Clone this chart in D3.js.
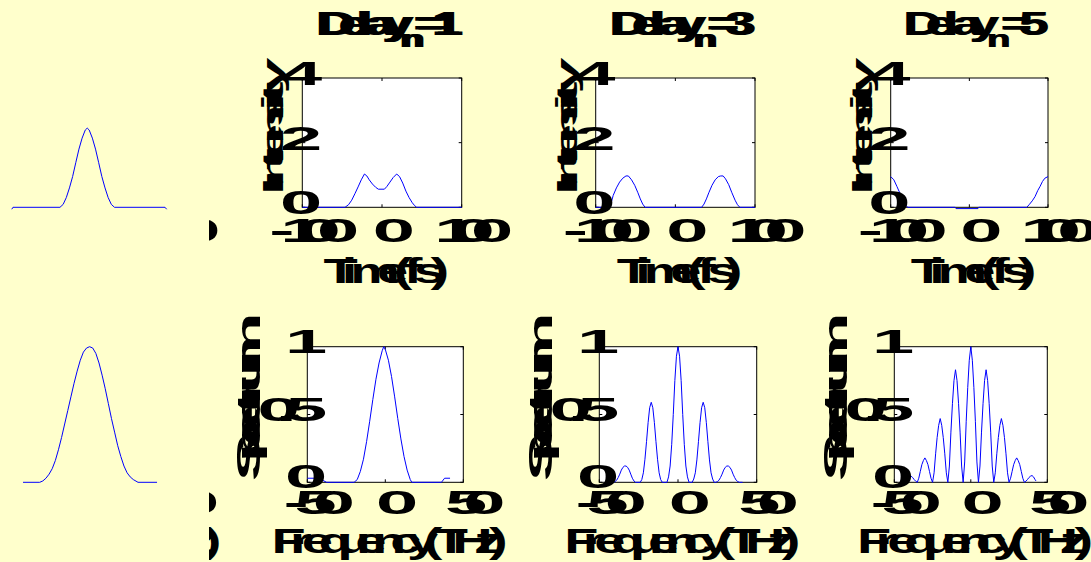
<!DOCTYPE html>
<html>
<head>
<meta charset="utf-8">
<script src="https://cdn.jsdelivr.net/npm/d3@7"></script>
<style>
  html, body { margin: 0; padding: 0; background: #ffffcc; }
  svg { display: block; }
</style>
</head>
<body>
<svg id="fig" width="1091" height="562"></svg>
<script>
// Delays (in units of 20 fs) of the three right-hand columns:
var delays = [1, 3, 5];

// Tick labels:
var timeTicks = [-100, 0, 100];
var intensityTicks = [0, 2, 4];
var freqTicks = [-50, 0, 50];
var spectrumTicks = [0, 0.5, 1];

// Input pulse (left column), intensity in units of 1e4 against time in fs:
var inputPulse = [
  [-99, -0.06], [-97.5, 0], [-38, 0], [-34, 0.09], [-30, 0.3], [-26, 0.6],
  [-22, 0.95], [-18, 1.38], [-14, 1.8], [-10, 2.14], [-6, 2.39], [-3.5, 2.45],
  [-1, 2.39], [3, 2.14], [7, 1.8], [11, 1.38], [15, 0.95], [19, 0.6],
  [23, 0.3], [27, 0.09], [31, 0], [95, 0], [97, -0.06]
];

// Intensity after the interferometer, one array per delay:
var pulseDelay1 = [
  [-100, 0], [-46.4, 0], [-42, 0.08], [-38, 0.22], [-34, 0.42], [-30, 0.63],
  [-26, 0.85], [-22, 1.03], [-19, 0.97], [-16, 0.85], [-12, 0.72], [-8, 0.62],
  [-4.6, 0.56], [3, 0.56], [6, 0.64], [10, 0.78], [14, 0.92], [18.4, 1.03],
  [22, 0.95], [26, 0.75], [30, 0.5], [34, 0.3], [38, 0.14], [41, 0.05],
  [43.5, 0], [100, 0]
];
var pulseDelay3 = [
  [-100, 0], [-84, 0], [-81, 0.1], [-78, 0.37], [-74, 0.6], [-70, 0.78],
  [-66, 0.9], [-62, 0.97], [-59, 0.97], [-55, 0.85], [-51, 0.68], [-47, 0.45],
  [-44, 0.26], [-41, 0.1], [-38, 0], [33, 0], [36, 0.1], [39, 0.26],
  [42, 0.45], [46, 0.68], [50, 0.85], [54, 0.95], [57, 0.97], [60, 0.97],
  [63, 0.88], [67, 0.7], [71, 0.45], [75, 0.22], [78, 0.08], [81, 0], [100, 0]
];
var pulseDelay5 = [
  [-100, 0.95], [-96, 0.85], [-92, 0.64], [-88, 0.42], [-86, 0.33], [-82, 0.12],
  [-80, 0.03], [-78, 0], [-18, 0], [-17, -0.04], [11, -0.04], [12, 0],
  [73, 0], [76, 0.08], [80, 0.2], [83.5, 0.33], [87, 0.52], [90, 0.65],
  [93, 0.8], [96, 0.9], [100, 0.95]
];

// Input spectrum (left column), normalised, against frequency in THz:
var inputSpectrum = [
  [-48.7, 0], [-38, 0], [-36, 0.01], [-34, 0.03], [-32, 0.06], [-30, 0.1],
  [-28, 0.16], [-26, 0.24], [-24, 0.33], [-22, 0.43], [-20, 0.53], [-18, 0.63],
  [-16, 0.73], [-14, 0.82], [-12, 0.9], [-10, 0.96], [-8, 0.99], [-6, 1],
  [-4, 0.99], [-2, 0.95], [0, 0.88], [2, 0.79], [4, 0.69], [6, 0.58],
  [8, 0.47], [10, 0.37], [12, 0.27], [14, 0.19], [16, 0.12], [18, 0.07],
  [20, 0.04], [22, 0.02], [25, 0], [37.2, 0]
];

// Spectra after the interferometer:
var spectrumDelay1 = [
  [-50, 0.03], [-45, 0.03], [-41, 0.02], [-37.6, 0], [-20, 0], [-18, 0.02],
  [-16, 0.08], [-14, 0.17], [-12, 0.3], [-10, 0.45], [-8, 0.61], [-6, 0.76],
  [-4, 0.88], [-2, 0.97], [-1, 1], [0, 0.98], [2, 0.9], [4, 0.78],
  [6, 0.63], [8, 0.47], [10, 0.32], [12, 0.19], [14, 0.09], [16, 0.02],
  [17, 0], [36, 0], [38, 0.03], [41.5, 0.03]
];
var spectrumDelay3 = [
  [-41, 0], [-40, 0.005], [-39, 0.015], [-38, 0.035], [-37, 0.06], [-36, 0.09],
  [-35, 0.11], [-34, 0.12], [-33, 0.12], [-32, 0.11], [-31, 0.09], [-30, 0.06],
  [-29, 0.03], [-28, 0.01], [-27, 0], [-24, 0], [-23, 0.02], [-22, 0.07],
  [-21, 0.17], [-20, 0.3], [-19, 0.44], [-18, 0.55], [-17, 0.59], [-16, 0.55],
  [-15, 0.44], [-14, 0.3], [-13, 0.17], [-12, 0.07], [-11, 0.02], [-10, 0],
  [-7, 0], [-6, 0.04], [-5, 0.12], [-4, 0.28], [-3, 0.5], [-2, 0.75],
  [-1, 0.93], [0, 1], [1, 0.93], [2, 0.75], [3, 0.5], [4, 0.28],
  [5, 0.12], [6, 0.04], [7, 0], [9, 0], [10, 0.024], [11, 0.07],
  [12, 0.165], [13, 0.3], [14, 0.44], [15, 0.55], [16, 0.59], [17, 0.55],
  [18, 0.44], [19, 0.3], [20, 0.165], [21, 0.07], [22, 0.024], [23, 0],
  [24, 0], [25, 0.005], [26, 0.015], [27, 0.035], [28, 0.06], [29, 0.09],
  [30, 0.11], [31, 0.12], [32, 0.12], [33, 0.11], [34, 0.09], [35, 0.06],
  [36, 0.035], [37, 0.015], [38, 0.005], [39, 0], [41, 0]
];
var spectrumDelay5 = [
  [-43.5, 0.01], [-43, 0.01], [-42, 0.02], [-41, 0.045], [-40, 0.05], [-39, 0.045],
  [-38, 0.035], [-37, 0.02], [-36, 0.008], [-35, 0],
  [-34, 0.03], [-33, 0.08], [-32, 0.13], [-31, 0.16], [-30, 0.18], [-29, 0.16],
  [-28, 0.13], [-27, 0.08], [-26, 0.03], [-25, 0],
  [-24, 0.07], [-23, 0.21], [-22, 0.33], [-21, 0.42], [-20, 0.47], [-19, 0.42],
  [-18, 0.33], [-17, 0.21], [-16, 0.07], [-15, 0],
  [-14, 0.12], [-13, 0.37], [-12, 0.58], [-11, 0.75], [-10, 0.83], [-9, 0.75],
  [-8, 0.58], [-7, 0.37], [-6, 0.12], [-5, 0],
  [-4, 0.15], [-3, 0.45], [-2, 0.7], [-1, 0.9], [0, 1], [1, 0.9],
  [2, 0.7], [3, 0.45], [4, 0.15], [5, 0],
  [6, 0.12], [7, 0.37], [8, 0.58], [9, 0.75], [10, 0.83], [11, 0.75],
  [12, 0.58], [13, 0.37], [14, 0.12], [15, 0],
  [16, 0.07], [17, 0.21], [18, 0.33], [19, 0.42], [20, 0.47], [21, 0.42],
  [22, 0.33], [23, 0.21], [24, 0.07], [25, 0],
  [26, 0.03], [27, 0.08], [28, 0.13], [29, 0.16], [30, 0.18], [31, 0.16],
  [32, 0.13], [33, 0.08], [34, 0.03], [35, 0],
  [36, 0.008], [37, 0.02], [38, 0.035], [39, 0.045], [40, 0.05], [41, 0.04],
  [42, 0.02], [42.6, 0.01]
];

var pulses = [inputPulse, pulseDelay1, pulseDelay3, pulseDelay5];
var spectra = [inputSpectrum, spectrumDelay1, spectrumDelay3, spectrumDelay5];

// Axes boxes of the two rows (column 0 is the input, mostly hidden):
var topRow = { top: 78, bottom: 207.3, left: [11, 302.3, 595.7, 890.7], width: [158, 159.4, 159.3, 157.3] };
var botRow = { top: 346.7, bottom: 482.3, left: [21, 307.3, 599.3, 894.3], width: [156, 156, 157.4, 153] };

var BG = "#ffffcc";
var FONT = "'Liberation Sans', Arial, sans-serif";
var svg = d3.select("#fig");

svg.append("rect").attr("width", 1091).attr("height", 562).attr("fill", BG);

// Layers, bottom to top:
var boxes = svg.append("g");
var curves = svg.append("g");
var labels = svg.append("g");
var cover = svg.append("g");
var inputCurves = svg.append("g");

// Hidden text used to get the advance of each character:
var probe = svg.append("text")
  .attr("font-family", FONT).attr("font-weight", "bold")
  .style("white-space", "pre").attr("visibility", "hidden");

function advance(ch, size) {
  probe.attr("font-size", size).text(ch);
  return probe.node().getComputedTextLength();
}

/** Writes a label the way the original renderer did: every glyph is widened
 * around its own origin while the advances stay (nearly) normal, so that
 * letters run into each other. */
function wideText(parent, parts, x, y, o) {
  var glyphs = [];
  var pen = 0;
  var step = o.adv || 1;
  parts.forEach(function(p) {
    for (var ch of p.text) {
      glyphs.push({ ch: ch, size: p.size, dy: p.dy || 0, sx: p.sx || o.sx, x: pen });
      pen += advance(ch, p.size) * step;
    }
  });
  var shift = o.anchor === "middle" ? -pen / 2 : (o.anchor === "end" ? -pen : 0);
  var g = parent.append("g")
    .attr("transform", "translate(" + x + "," + y + ")" + (o.rotate ? " rotate(-90)" : ""));
  g.selectAll("text")
    .data(glyphs)
    .join("text")
    .attr("transform", function(d) {
      return "translate(" + (shift + d.x) + "," + d.dy + ") scale(" + d.sx + ",1)";
    })
    .attr("font-size", function(d) { return d.size; })
    .attr("font-family", FONT)
    .attr("font-weight", "bold")
    .attr("fill", "black")
    .text(function(d) { return d.ch; });
}

/** One axes: white box, inner ticks, tick labels and axis labels. */
function drawAxes(row, col, xDomain, yDomain, xTicks, yTicks, o) {
  var L = row.left[col], R = L + row.width[col];
  var x = d3.scaleLinear().domain(xDomain).range([L, R]);
  var y = d3.scaleLinear().domain(yDomain).range([row.bottom, row.top]);

  if (col > 0) {
    var box = boxes.append("g");
    box.append("rect")
      .attr("x", L).attr("y", row.top)
      .attr("width", R - L).attr("height", row.bottom - row.top)
      .attr("fill", "white").attr("stroke", "black").attr("stroke-width", 1);
    // MATLAB style ticks, inside the box on the four sides:
    xTicks.forEach(function(t) {
      box.append("line").attr("x1", x(t)).attr("x2", x(t))
        .attr("y1", row.bottom).attr("y2", row.bottom - 3).attr("stroke", "black");
      box.append("line").attr("x1", x(t)).attr("x2", x(t))
        .attr("y1", row.top).attr("y2", row.top + 3).attr("stroke", "black");
    });
    yTicks.forEach(function(t) {
      box.append("line").attr("x1", L).attr("x2", L + 3)
        .attr("y1", y(t)).attr("y2", y(t)).attr("stroke", "black");
      box.append("line").attr("x1", R).attr("x2", R - 3)
        .attr("y1", y(t)).attr("y2", y(t)).attr("stroke", "black");
    });
  }

  xTicks.forEach(function(t) {
    wideText(labels, [{ text: String(t), size: 33 }], x(t), row.bottom + o.xTickDy,
      { anchor: "middle", sx: 2.3 });
  });
  yTicks.forEach(function(t) {
    wideText(labels, [{ text: String(t), size: 33 }], L - 4, y(t) + o.yTickDy,
      { anchor: "end", sx: 2.3 });
  });
  wideText(labels, [{ text: o.xLabel, size: 35 }], (L + R) / 2, row.bottom + o.xLabelDy,
    { anchor: "middle", sx: 1.6, adv: 0.86 });
  wideText(labels, [{ text: o.yLabel, size: o.yLabelSize }], L - o.yLabelDx,
    (row.top + row.bottom) / 2 + o.yLabelDy,
    { anchor: "middle", sx: 2.2, rotate: true, adv: o.yLabelAdv });
  if (col > 0) {
    wideText(labels, [
      { text: "Delay", size: 33 },
      { text: "n", size: 24, dy: 12 },
      { text: "=" + delays[col - 1], size: 33 }
    ], (L + R) / 2, 35, { anchor: "middle", sx: 1.6, adv: 0.95 });
  }
  return { x: x, y: y };
}

var topScales = [], botScales = [];
for (var c = 0; c < 4; c++) {
  topScales.push(drawAxes(topRow, c, [-100, 100], [0, 4], timeTicks, intensityTicks, {
    xTickDy: 35, yTickDy: 7, xLabel: "Time(fs)", xLabelDy: 76,
    yLabel: "Intensity", yLabelSize: 30, yLabelAdv: 0.95, yLabelDx: 19, yLabelDy: -6
  }));
  botScales.push(drawAxes(botRow, c, [-50, 50], [0, 1], freqTicks, spectrumTicks, {
    xTickDy: 32, yTickDy: 6, xLabel: "Frequency(THz)", xLabelDy: 71,
    yLabel: "Spectrum", yLabelSize: 33, yLabelAdv: 0.85, yLabelDx: 47, yLabelDy: 2
  }));
}

// The input column sits behind a plain panel; only its curves show.
cover.append("rect").attr("x", 0).attr("y", 0).attr("width", 209).attr("height", 562).attr("fill", BG);

function drawCurve(layer, data, s) {
  var line = d3.line()
    .x(function(d) { return s.x(d[0]); })
    .y(function(d) { return s.y(d[1]); });
  layer.append("path")
    .attr("d", line(data))
    .attr("fill", "none")
    .attr("stroke", "#0000ff")
    .attr("stroke-width", 1);
}
pulses.forEach(function(p, i) { drawCurve(i === 0 ? inputCurves : curves, p, topScales[i]); });
spectra.forEach(function(p, i) { drawCurve(i === 0 ? inputCurves : curves, p, botScales[i]); });
</script>
</body>
</html>
